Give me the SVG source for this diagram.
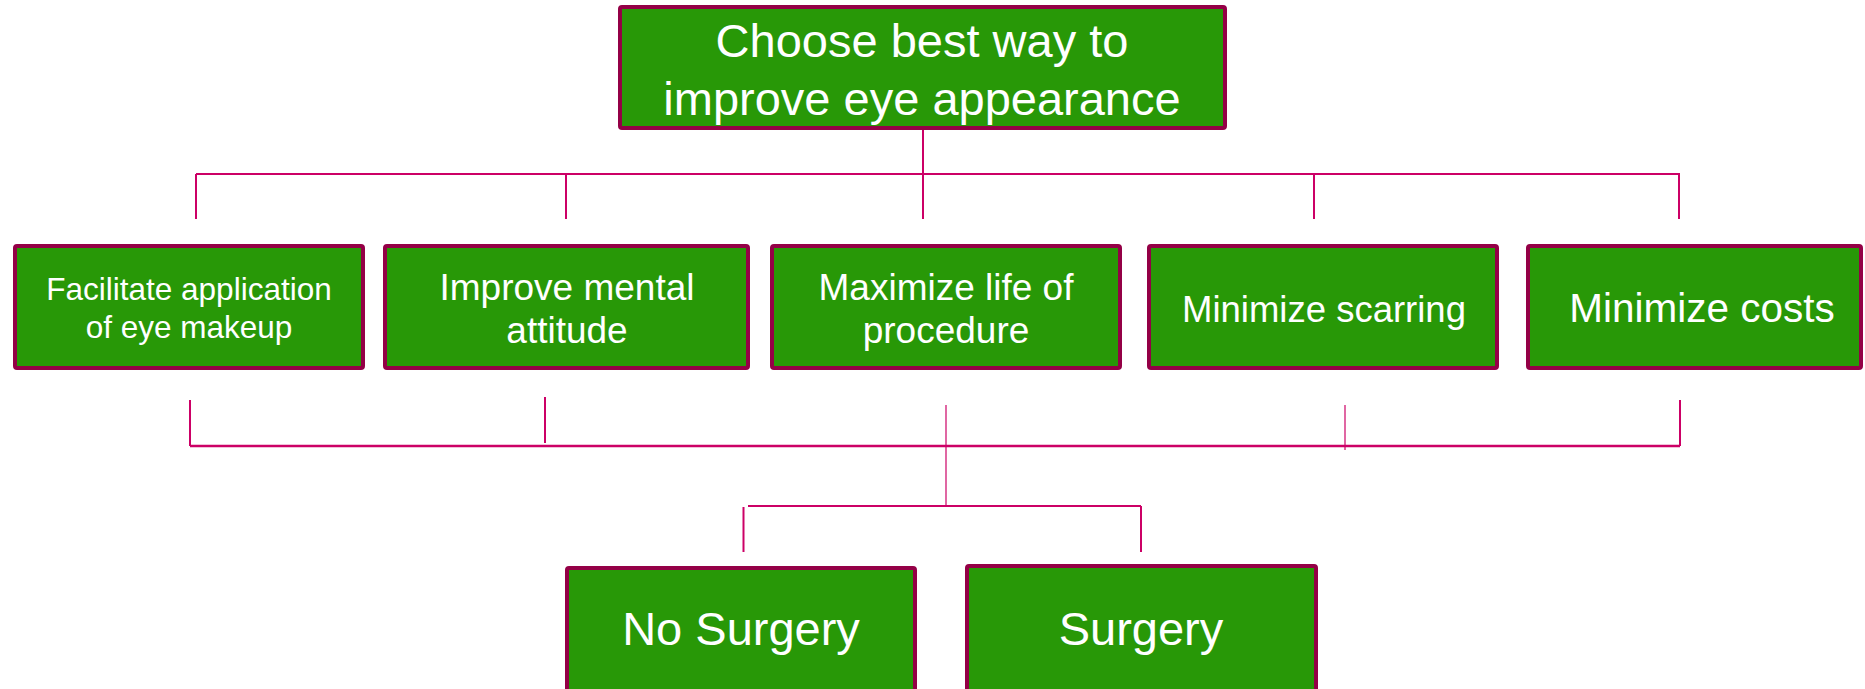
<svg xmlns="http://www.w3.org/2000/svg" width="1865" height="689" viewBox="0 0 1865 689">
  <style>
    .box { fill: #289807; stroke: #940046; stroke-width: 4; }
    .lbl { fill: #ffffff; font-family: "Liberation Sans", Arial, sans-serif; text-anchor: middle; }
    .ln { stroke: #cc0066; fill: none; }
    .w2 { stroke-width: 2; }
    .w1 { stroke-width: 1.2; }
  </style>
  <rect width="1865" height="689" fill="#ffffff"/>

  <g id="connectors">
    <!-- goal to criteria -->
    <line class="ln w2" x1="923" y1="130" x2="923" y2="219"/>
    <line class="ln w2" x1="196" y1="174" x2="1680" y2="174"/>
    <line class="ln w2" x1="196" y1="174" x2="196" y2="219"/>
    <line class="ln w2" x1="566" y1="174" x2="566" y2="219"/>
    <line class="ln w2" x1="1314" y1="174" x2="1314" y2="219"/>
    <line class="ln w2" x1="1679" y1="174" x2="1679" y2="219"/>
    <!-- criteria to alternatives -->
    <line class="ln w2" x1="190" y1="400" x2="190" y2="446"/>
    <line class="ln w2" x1="545" y1="397" x2="545" y2="443"/>
    <line class="ln w1" x1="946" y1="405" x2="946" y2="506"/>
    <line class="ln w1" x1="1345" y1="405" x2="1345" y2="450"/>
    <line class="ln w2" x1="1680" y1="400" x2="1680" y2="446"/>
    <line class="ln" stroke-width="2.5" x1="190" y1="446" x2="1680" y2="446"/>
    <line class="ln w2" x1="748" y1="506" x2="1141" y2="506"/>
    <line class="ln w2" x1="743.5" y1="507" x2="743.5" y2="552"/>
    <line class="ln w2" x1="1141" y1="506" x2="1141" y2="552"/>
  </g>

  <g id="goal">
    <rect class="box" x="620" y="7" width="605" height="121" rx="2"/>
    <text class="lbl" x="922" y="57" font-size="47">Choose best way to</text>
    <text class="lbl" x="922" y="115" font-size="47">improve eye appearance</text>
  </g>

  <g id="c1">
    <rect class="box" x="15" y="246" width="348" height="122" rx="2"/>
    <text class="lbl" x="189" y="300" font-size="31.5">Facilitate application</text>
    <text class="lbl" x="189" y="338" font-size="31.5">of eye makeup</text>
  </g>

  <g id="c2">
    <rect class="box" x="385" y="246" width="363" height="122" rx="2"/>
    <text class="lbl" x="567" y="300" font-size="37">Improve mental</text>
    <text class="lbl" x="567" y="343" font-size="37">attitude</text>
  </g>

  <g id="c3">
    <rect class="box" x="772" y="246" width="348" height="122" rx="2"/>
    <text class="lbl" x="946" y="300" font-size="37">Maximize life of</text>
    <text class="lbl" x="946" y="343" font-size="37">procedure</text>
  </g>

  <g id="c4">
    <rect class="box" x="1149" y="246" width="348" height="122" rx="2"/>
    <text class="lbl" x="1324" y="322" font-size="36.5">Minimize scarring</text>
  </g>

  <g id="c5">
    <rect class="box" x="1528" y="246" width="333" height="122" rx="2"/>
    <text class="lbl" x="1702" y="322" font-size="40.5">Minimize costs</text>
  </g>

  <g id="a1">
    <rect class="box" x="567" y="568" width="348" height="130" rx="2"/>
    <text class="lbl" x="741" y="645" font-size="47">No Surgery</text>
  </g>

  <g id="a2">
    <rect class="box" x="967" y="566" width="349" height="132" rx="2"/>
    <text class="lbl" x="1141" y="645" font-size="47">Surgery</text>
  </g>
</svg>
